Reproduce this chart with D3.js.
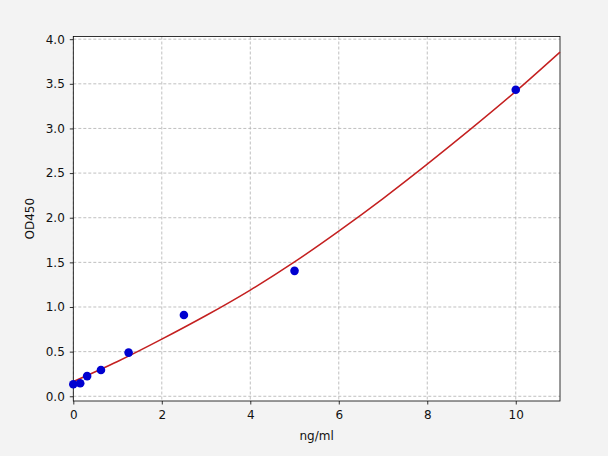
<!DOCTYPE html>
<html>
<head>
<meta charset="utf-8">
<script src="https://cdn.jsdelivr.net/npm/d3@7"></script>
<style>
  body { margin: 0; background: #f3f3f3; }
  svg { display: block; font-family: "DejaVu Sans", sans-serif; }
</style>
</head>
<body>
<div id="chart"></div>
<script>
// standard points (concentration, OD)
const concValues = [0, 0.156, 0.3125, 0.625, 1.25, 2.5, 5, 10];
const odValues = [0.135, 0.146, 0.226, 0.295, 0.489, 0.911, 1.405, 3.434];

// fitted curve
const curveX = [0, 1, 2, 3, 4, 5, 6, 7, 8, 9, 10, 11];
const curveY = [0.165, 0.39, 0.64, 0.905, 1.19, 1.505, 1.85, 2.215, 2.60, 3.00, 3.415, 3.855];

const xTicks = [0, 2, 4, 6, 8, 10];
const yTicks = [0, 0.5, 1.0, 1.5, 2.0, 2.5, 3.0, 3.5, 4.0];

const W = 608, H = 456;
const margin = {top: 36.5, right: 48, bottom: 55, left: 73.3};
const fontSize = 12;

const svg = d3.select("#chart").append("svg")
  .attr("width", W).attr("height", H);

svg.append("rect").attr("width", W).attr("height", H).attr("fill", "#f3f3f3");

const x = d3.scaleLinear().domain([0, 11]).range([margin.left, W - margin.right]);
const y = d3.scaleLinear().domain([-0.053, 4.03]).range([H - margin.bottom, margin.top]);

// plot background
svg.append("rect")
  .attr("x", x(0)).attr("y", y(4.03))
  .attr("width", x(11) - x(0)).attr("height", y(-0.053) - y(4.03))
  .attr("fill", "white");

// grid
const grid = svg.append("g")
  .attr("stroke", "#b0b0b0").attr("stroke-width", 0.8).attr("stroke-dasharray", "3,2");
xTicks.forEach(function(t){
  grid.append("line")
    .attr("x1", x(t)).attr("x2", x(t))
    .attr("y1", y(4.03)).attr("y2", y(-0.053));
});
yTicks.forEach(function(t){
  grid.append("line")
    .attr("x1", x(0)).attr("x2", x(11))
    .attr("y1", y(t)).attr("y2", y(t));
});

// axes
const xAxis = d3.axisBottom(x).tickValues(xTicks).tickSize(3.5).tickPadding(6).tickFormat(d3.format("d"));
const yAxis = d3.axisLeft(y).tickValues(yTicks).tickSize(3.5).tickPadding(5).tickFormat(d3.format(".1f"));

const gx = svg.append("g").attr("transform", "translate(0," + y(-0.053) + ")").call(xAxis);
const gy = svg.append("g").attr("transform", "translate(" + x(0) + ",0)").call(yAxis);
[gx, gy].forEach(function(g){
  g.select(".domain").remove();
  g.selectAll("text").attr("font-size", fontSize).attr("font-family", "DejaVu Sans").attr("fill", "#111");
  g.selectAll("line").attr("stroke", "#000").attr("stroke-width", 0.8);
});

// frame
svg.append("rect")
  .attr("x", x(0)).attr("y", y(4.03))
  .attr("width", x(11) - x(0)).attr("height", y(-0.053) - y(4.03))
  .attr("fill", "none").attr("stroke", "#000").attr("stroke-width", 0.8);

// fitted curve
const line = d3.line()
  .x(function(d, i){ return x(curveX[i]); })
  .y(function(d){ return y(d); })
  .curve(d3.curveNatural);

svg.append("path")
  .datum(curveY)
  .attr("d", line)
  .attr("fill", "none")
  .attr("stroke", "#c42020")
  .attr("stroke-width", 1.5);

// points
svg.append("g").selectAll("circle")
  .data(concValues)
  .join("circle")
  .attr("cx", function(d){ return x(d); })
  .attr("cy", function(d, i){ return y(odValues[i]); })
  .attr("r", 4.3)
  .attr("fill", "#0000d0");

// axis labels
svg.append("text")
  .attr("x", (x(0) + x(11)) / 2).attr("y", 440)
  .attr("text-anchor", "middle").attr("font-size", fontSize).attr("fill", "#111")
  .text("ng/ml");

svg.append("text")
  .attr("transform", "translate(34," + ((y(4.03) + y(-0.053)) / 2) + ") rotate(-90)")
  .attr("text-anchor", "middle").attr("font-size", fontSize).attr("fill", "#111")
  .text("OD450");
</script>
</body>
</html>
